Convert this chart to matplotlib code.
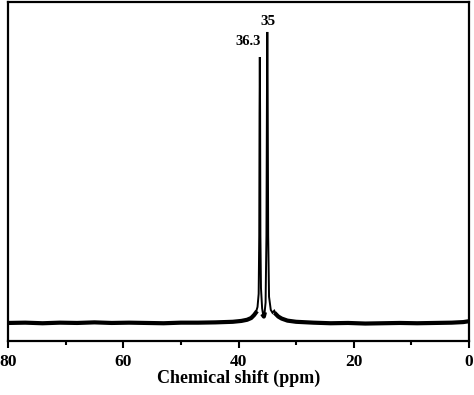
import numpy as np
import matplotlib
matplotlib.use("Agg")
import matplotlib.pyplot as plt
from matplotlib.ticker import MultipleLocator

# Spectrum (ppm, normalised intensity)
ppm = [80.0, 77.0, 74.0, 71.0, 68.0, 65.0, 62.0, 59.0, 56.0, 53.0, 50.0, 47.0,
       44.0, 41.0, 39.5, 38.5, 37.8, 37.3, 37.0, 36.7, 36.5, 36.4, 36.35, 36.3,
       36.25, 36.2, 36.1, 35.9, 35.7, 35.6, 35.5, 35.3, 35.15, 35.05, 35.0,
       34.95, 34.85, 34.7, 34.4, 34.1, 33.8, 33.5, 33.1, 32.5, 31.5, 30.0,
       27.0, 24.0, 21.0, 18.0, 15.0, 12.0, 9.0, 6.0, 3.0, 1.0, 0.0]
intensity = [0.000, 0.001, -0.001, 0.001, 0.000, 0.002, 0.000, 0.001, 0.000,
             -0.001, 0.001, 0.001, 0.002, 0.004, 0.007, 0.011, 0.017, 0.027,
             0.035, 0.055, 0.10, 0.30, 0.72, 0.914, 0.72, 0.30, 0.12, 0.05,
             0.025, 0.022, 0.03, 0.07, 0.30, 0.85, 1.00, 0.85, 0.30, 0.09,
             0.045, 0.035, 0.042, 0.03, 0.022, 0.015, 0.008, 0.004, 0.001,
             -0.001, 0.000, -0.002, -0.001, 0.000, -0.001, 0.000, 0.001,
             0.003, 0.006]

peak_labels = ["36.3", "35"]
peak_pos = [36.3, 35.0]
peak_heights = [0.914, 1.00]

x_ticks = [80, 60, 40, 20, 0]
x_label = "Chemical shift (ppm)"

font = ["Liberation Serif", "DejaVu Serif"]

fig = plt.figure(figsize=(4.74, 3.95), dpi=100)
ax = fig.add_axes([8 / 474, 54 / 395, 461 / 474, 339 / 395])

ppm_a = np.array(ppm)
int_a = np.array(intensity)
ax.plot(ppm_a, int_a, color="black", lw=1.4, solid_joinstyle="miter")
base = np.where(int_a < 0.04, int_a, np.nan)
ax.plot(ppm_a, base, color="black", lw=3.0)

ax.set_xlim(80, 0)
ax.set_ylim(-0.062, 1.103)
ax.set_yticks([])
ax.set_xticks(x_ticks)
ax.xaxis.set_minor_locator(MultipleLocator(10))
ax.tick_params(axis="x", which="major", direction="out", length=5, width=1.5,
               pad=4)
ax.tick_params(axis="x", which="minor", direction="out", length=3, width=1.5)
for lab in ax.get_xticklabels():
    lab.set_fontfamily(font)
    lab.set_fontweight("bold")
    lab.set_fontsize(12.5)
for sp in ax.spines.values():
    sp.set_linewidth(1.6)

ax.set_xlabel(x_label, fontfamily=font, fontweight="bold", fontsize=13,
              labelpad=0)

ax.text(peak_pos[0] - 0.1, peak_heights[0] + 0.03, peak_labels[0],
        ha="right", va="bottom", fontfamily=font, fontweight="bold",
        fontsize=10.5)
ax.text(peak_pos[1] - 0.2, peak_heights[1] + 0.012, peak_labels[1],
        ha="center", va="bottom", fontfamily=font, fontweight="bold",
        fontsize=11)

fig.savefig("out.png", dpi=100)
